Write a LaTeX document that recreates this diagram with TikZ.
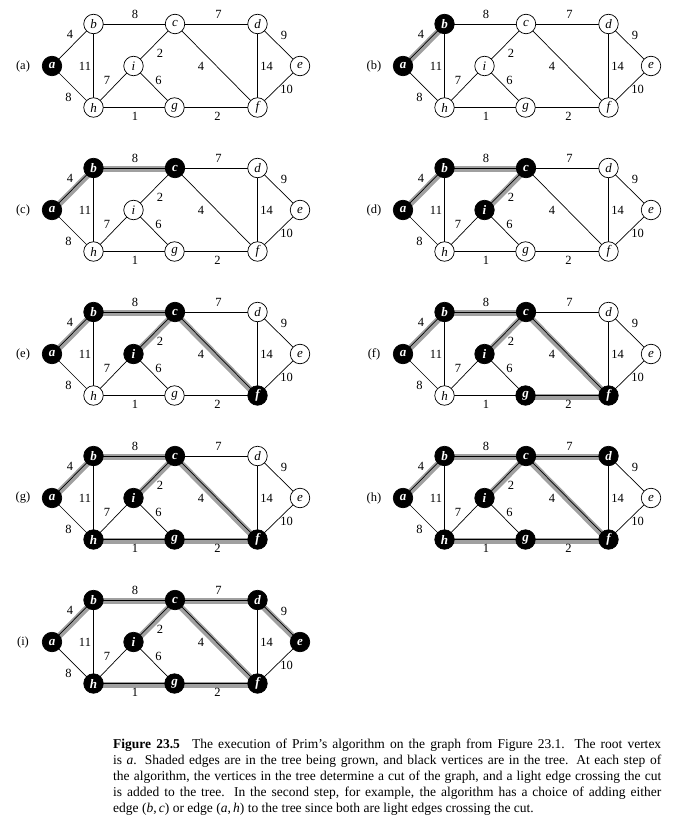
\documentclass[tikz,border=0pt]{standalone}
\usepackage{fontspec}
\setmainfont{Liberation Serif}
\usetikzlibrary{backgrounds}
\definecolor{treegray}{RGB}{160,160,160}
\newcommand\primpanel[4]{%
  \begin{scope}[shift={(#3,#4)}]
    \node[plabel] (lab-#2) at (23,66) {(#1)};
    \foreach \n/\px/\py [count=\j] in {a/52/66,b/93.5/24,c/175/24,i/133.5/66,f/257.5/107.5,g/174.5/107.5,h/93.5/107.5,d/257.5/24,e/300/66}{%
      \ifnum\j>#2\relax
        \node[wv] (\n-#2) at (\px,\py) {\n};
      \else
        \node[bv] (\n-#2) at (\px,\py) {\n};
      \fi}
    \begin{scope}[on background layer]
      \foreach \u/\v [count=\j] in {a/b,b/c,c/i,c/f,f/g,g/h,c/d,d/e}{%
        \ifnum\j<#2\relax
          \draw[treeedge] ([yshift=-1.3pt]\u-#2.center) -- ([yshift=-1.3pt]\v-#2.center);
        \fi}
      \foreach \u/\v/\w/\lx/\ly in {a/b/4/70/34,b/c/8/135/14,c/i/2/160/53,c/f/4/201/66,f/g/2/217.5/116.5,g/h/1/135/116.5,c/d/7/218.5/14,d/e/9/284/35,a/h/8/68.5/97,b/h/11/85/66,h/i/7/107/80,i/g/6/158.5/80,d/f/14/266.5/66,e/f/10/286.5/89.5}{%
        \draw[edge] (\u-#2.center) -- (\v-#2.center);
        \node[wt] (w\u\v-#2) at (\lx,\ly) {\w};}
    \end{scope}
  \end{scope}}
\begin{document}
\begin{tikzpicture}[x=1pt,y=-1pt,
  wv/.style={circle,draw,line width=0.7pt,fill=white,minimum size=19.5pt,inner sep=0pt,font=\fontsize{13}{13}\selectfont\itshape},
  bv/.style={circle,draw,line width=0.7pt,fill=black,text=white,minimum size=19.5pt,inner sep=0pt,font=\fontsize{13}{13}\selectfont\bfseries\itshape},
  edge/.style={line width=0.7pt},
  treeedge/.style={line width=6pt,draw=treegray},
  wt/.style={font=\fontsize{12.5}{12.5}\selectfont,inner sep=0pt},
  plabel/.style={font=\fontsize{12.5}{12.5}\selectfont,inner sep=0pt}]
\useasboundingbox (0,0) rectangle (684,824);
\primpanel{a}{1}{0}{0}
\primpanel{b}{2}{351}{0}
\primpanel{c}{3}{0}{144}
\primpanel{d}{4}{351}{144}
\primpanel{e}{5}{0}{288}
\primpanel{f}{6}{351}{288}
\primpanel{g}{7}{0}{432}
\primpanel{h}{8}{351}{432}
\primpanel{i}{9}{0}{576}
\node[anchor=north west,text width=548pt,align=justify,inner sep=0pt,font=\fontsize{13.5}{15.9}\selectfont] (cap) at (113,739) {\textbf{Figure 23.5}\hspace{0.9em}The execution of Prim’s algorithm on the graph from Figure 23.1. The root vertex\linebreak
is \textit{a}. Shaded edges are in the tree being grown, and black vertices are in the tree. At each step of\linebreak
the algorithm, the vertices in the tree determine a cut of the graph, and a light edge crossing the cut\linebreak
is added to the tree. In the second step, for example, the algorithm has a choice of adding either\linebreak
edge (\textit{b},\,\textit{c}) or edge (\textit{a},\,\textit{h}) to the tree since both are light edges crossing the cut.};
\end{tikzpicture}
\end{document}
